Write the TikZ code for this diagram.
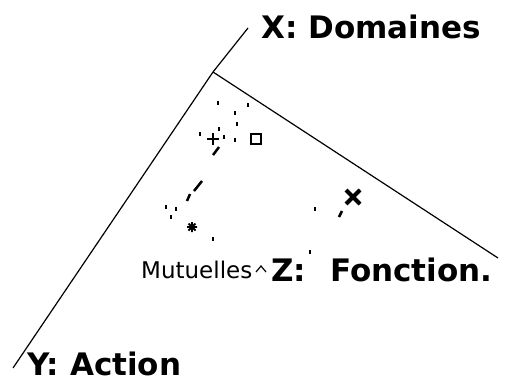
\documentclass[tikz,border=0pt]{standalone}
\usepackage{fontspec}
\setmainfont{DejaVu Sans}
\usepackage{tikz}
\usetikzlibrary{arrows.meta,positioning}
\tikzset{
  axislabel/.style={font=\fontsize{31}{31}\selectfont\bfseries,anchor=base west,inner sep=0pt},
  ptlabel/.style={font=\fontsize{23}{23}\selectfont,anchor=base west,inner sep=0pt},
  axisline/.style={line width=1.2pt},
}
\begin{document}
\begin{tikzpicture}[x=1pt,y=-1pt,>=Stealth]
\useasboundingbox (0,0) rectangle (506,383);
\coordinate (o) at (213,72);
\coordinate (xend) at (248,28);
\coordinate (yend) at (13,368);
\coordinate (zend) at (498,258);
\draw[axisline] (o)--(xend);
\draw[axisline] (o)--(yend);
\draw[axisline] (o)--(zend);
\node[axislabel] (xlab) at (261,38) {X: Domaines};
\node[axislabel] (ylab) at (27,375) {Y: Action};
\node[axislabel] (zlab) at (271,281) {Z:\hspace{24pt}Fonction.};
\node[ptlabel] (mut) at (141,278) {Mutuelles};
\draw[line width=1.2pt] (256,272)--(261,266)--(266,272);
\foreach \x/\y in {218/103,248/105,235/113,237/124,219/129,200/134,224/137,235/140,
  166/207,176/209,171/217,213/239,315/209,310/252}
  \fill (\x-1,\y-2) rectangle ++(2,4);
\draw[line width=2.5pt] (207,139)--(219,139) (213,133)--(213,145);
\draw[line width=2pt] (251,134) rectangle (261,144);
\draw[line width=4pt] (346,190)--(360,204) (360,190)--(346,204);
\draw[line width=2.5pt] (219,147)--(213,155);
\draw[line width=2.5pt] (202,181)--(194,191) (190,194)--(187,201);
\draw[line width=2.5pt] (342,211)--(339,217);
\draw[line width=1.8pt] (187,227)--(197,227) (192,222)--(192,232)
  (188.5,223.5)--(195.5,230.5) (195.5,223.5)--(188.5,230.5);
\end{tikzpicture}
\end{document}
